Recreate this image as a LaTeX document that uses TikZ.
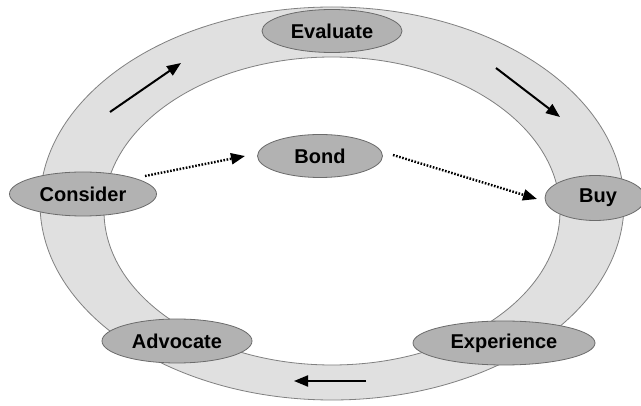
\documentclass[tikz,border=0pt]{standalone}
\usepackage{fontspec}
\setmainfont{Liberation Sans}
\usetikzlibrary{shapes.geometric,arrows.meta}
\definecolor{ringfill}{gray}{0.88}
\definecolor{ringline}{gray}{0.5}
\definecolor{nodefill}{gray}{0.70}
\definecolor{nodeline}{gray}{0.42}
\tikzset{
  stage/.style={ellipse, draw=nodeline, fill=nodefill, line width=0.8pt, inner sep=0pt,
    font=\fontsize{20}{23}\selectfont\bfseries, text=black},
  flowarrow/.style={line width=2pt, -{Triangle[length=14pt,width=11pt]}},
  bondarrow/.style={line width=2.4pt, dash pattern=on 1.6pt off 1.6pt, -{Triangle[length=14pt,width=11pt]}}
}
\begin{document}
\begin{tikzpicture}[x=1pt,y=-1pt]
\useasboundingbox (0,0) rectangle (641,406);
\fill[white] (0,0) rectangle (641,406);
% ring
\fill[ringfill, even odd rule] (332,203.5) ellipse [x radius=292, y radius=196.5]
  (332,211) ellipse [x radius=228, y radius=154];
\draw[ringline, line width=0.8pt] (332,203.5) ellipse [x radius=292, y radius=196.5];
\draw[ringline, line width=0.8pt] (332,211) ellipse [x radius=228, y radius=154];
% stages
\node[stage, minimum width=140pt, minimum height=43pt] (evaluate) at (332,31) {Evaluate};
\node[stage, minimum width=147pt, minimum height=44pt] (consider) at (83,194) {Consider};
\node[stage, minimum width=100pt, minimum height=45pt] (buy) at (595,198) {\hspace*{6pt}Buy};
\node[stage, minimum width=150pt, minimum height=44pt] (advocate) at (177,341) {Advocate};
\node[stage, minimum width=182pt, minimum height=44pt] (experience) at (504,343) {Experience};
\node[stage, minimum width=125pt, minimum height=43pt] (bond) at (320,156) {Bond};
% arrow end points
\coordinate (a1s) at (110,112);
\coordinate (a1e) at (181,63);
\coordinate (a2s) at (496,68);
\coordinate (a2e) at (560,117);
\coordinate (a3s) at (366,381);
\coordinate (a3e) at (294,381);
\coordinate (d1s) at (145,176);
\coordinate (d1e) at (245,156);
\coordinate (d2s) at (393,155);
\coordinate (d2e) at (537,199);
\draw[flowarrow] (a1s) -- (a1e);
\draw[flowarrow] (a2s) -- (a2e);
\draw[flowarrow] (a3s) -- (a3e);
\draw[bondarrow] (d1s) -- (d1e);
\draw[bondarrow] (d2s) -- (d2e);
\end{tikzpicture}
\end{document}
